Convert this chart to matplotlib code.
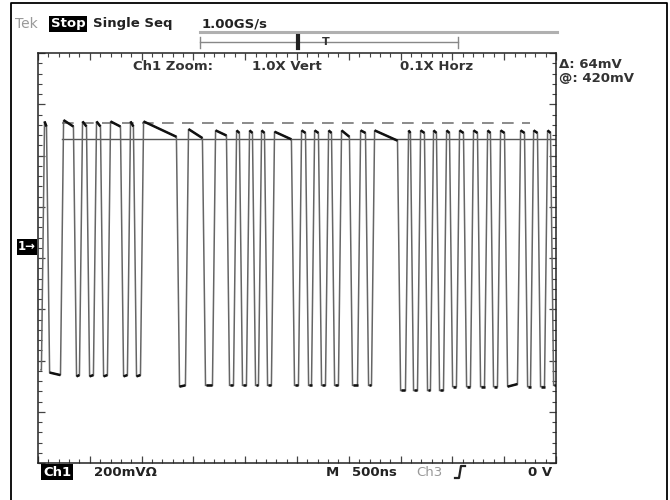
import numpy as np
import matplotlib
matplotlib.use("Agg")
import matplotlib.pyplot as plt
from matplotlib.collections import LineCollection
from matplotlib.lines import Line2D

# ---------------- data ----------------
# segment start times (us) of the digital waveform (alternating low/high)
seg_t0_us = [0.30, 0.48, 0.97, 2.32, 3.57, 4.15, 4.83, 5.50, 6.18, 6.85,
             8.11, 8.78, 9.36, 10.04, 13.51, 14.38, 16.02, 16.99, 18.34, 19.02,
             19.59, 20.27, 20.85, 21.43, 22.01, 22.68, 24.61, 25.29, 25.97, 26.55,
             27.22, 27.90, 28.48, 29.15, 30.21, 30.99, 31.76, 32.34, 34.85, 35.62,
             36.10, 36.78, 37.45, 38.03, 38.61, 39.29, 39.87, 40.54, 41.22, 41.89,
             42.57, 43.25, 43.82, 44.50, 45.18, 46.43, 47.11, 47.69, 48.36, 49.04,
             49.62]
seg_end_us = 50.0
# level at the start and end of each segment (mV)
seg_v0_mV = [-480, 490, -490, 495, -505, 490, -505, 490, -505, 490,
             -505, 490, -505, 490, -545, 460, -540, 455, -540, 455,
             -540, 455, -540, 455, -540, 450, -540, 455, -540, 455,
             -540, 455, -540, 455, -540, 455, -540, 455, -560, 455,
             -560, 455, -560, 455, -560, 455, -545, 455, -545, 455,
             -545, 455, -545, 455, -545, 455, -545, 455, -545, 455,
             -540]
seg_v1_mV = [-480, 470, -500, 470, -500, 470, -500, 470, -500, 470,
             -500, 470, -500, 430, -540, 425, -540, 435, -540, 445,
             -540, 445, -540, 445, -540, 420, -540, 445, -540, 445,
             -540, 445, -540, 430, -540, 445, -540, 415, -560, 445,
             -560, 445, -560, 445, -560, 445, -545, 445, -545, 445,
             -545, 445, -545, 445, -535, 445, -545, 445, -545, 445,
             -540]

cursor_mV = 420          # "@: 420mV"
delta_mV = 64            # "Δ: 64mV"
volts_per_div_mV = 200
time_per_div_us = 5

header_texts = ["Tek", "Stop", "Single Seq", "1.00GS/s"]
zoom_texts = ["Ch1 Zoom:", "1.0X Vert", "0.1X Horz"]
footer_texts = ["Ch1", "200mV\u03a9", "M", "500ns", "Ch3", "0 V"]

# ---------------- figure ----------------
W, H = 670, 500
fig = plt.figure(figsize=(W / 100, H / 100), dpi=100)
fig.patch.set_facecolor("white")

def fx(px):
    return px / W

def fy(py):
    return 1 - py / H

L, R, T, B = 38, 556, 53, 463
ax = fig.add_axes([fx(L), fy(B), (R - L) / W, (B - T) / H])
ymax = 757
ymin = ymax - 8 * volts_per_div_mV
ax.set_xlim(0, 10 * time_per_div_us)
ax.set_ylim(ymin, ymax)

ax.set_xticks(np.arange(0, 10 * time_per_div_us + 0.01, time_per_div_us))
ax.set_xticks(np.arange(0, 10 * time_per_div_us + 0.01, time_per_div_us / 5), minor=True)
ax.set_yticks(np.arange(ymin, ymax + 0.1, volts_per_div_mV))
ax.set_yticks(np.arange(ymin, ymax + 0.1, volts_per_div_mV / 5), minor=True)
ax.tick_params(which="both", direction="in", top=True, right=True,
               labelbottom=False, labelleft=False, color="#444444")
ax.tick_params(which="major", length=5, width=0.9)
ax.tick_params(which="minor", length=3, width=0.8)
for s in ax.spines.values():
    s.set_linewidth(1.1)
    s.set_color("#222222")

# build waveform
tr = 0.3
xs, ys, flats = [], [], []
n = len(seg_t0_us)
for i in range(n):
    t0 = seg_t0_us[i]
    t1 = seg_t0_us[i + 1] if i + 1 < n else seg_end_us
    a = t0 if i == 0 else t0 + tr / 2
    b = t1 if i == n - 1 else t1 - tr / 2
    xs += [a, b]
    ys += [seg_v0_mV[i], seg_v1_mV[i]]
    flats.append([(a, seg_v0_mV[i]), (b, seg_v1_mV[i])])

# cursors
x_c0 = seg_t0_us[3]
ax.plot([x_c0, seg_end_us], [cursor_mV, cursor_mV], color="#555555", lw=1.0, zorder=2)
ax.plot([x_c0, 47.5], [cursor_mV + delta_mV] * 2, color="#777777", lw=1.2,
        dashes=(7, 5), zorder=2)

ax.plot(xs, ys, color="#666666", lw=1.1, zorder=3, solid_joinstyle="miter")
ax.add_collection(LineCollection(flats, colors="#111111", linewidths=1.8, zorder=4))

# ---------------- texts ----------------
FONT = "DejaVu Sans"
def t(px, py, s, color="#222222", size=9.5, weight="bold", **kw):
    fig.text(fx(px), fy(py), s, color=color, fontsize=size, fontweight=weight,
             family=FONT, va="center", ha=kw.pop("ha", "left"), **kw)

# header
t(15, 24, header_texts[0], color="#999999", weight="normal", size=10)
t(51, 24, header_texts[1], color="white",
  bbox=dict(facecolor="black", edgecolor="none", pad=1.2))
t(93, 24, header_texts[2])
t(202, 24, header_texts[3])

# record bracket
fig.add_artist(Line2D([fx(200), fx(557)], [fy(32), fy(32)], color="#b0b0b0", lw=2.2))
fig.add_artist(Line2D([fx(200), fx(458)], [fy(42), fy(42)], color="#888888", lw=1.0))
for xb in (200, 458):
    fig.add_artist(Line2D([fx(xb), fx(xb)], [fy(37), fy(48)], color="#888888", lw=1.0))
fig.add_artist(Line2D([fx(298), fx(298)], [fy(36), fy(48)], color="#222222", lw=3.0))
t(326, 42, "T", size=8, ha="center", color="#333333")

# zoom line
t(133, 66, zoom_texts[0], color="#333333")
t(252, 66, zoom_texts[1], color="#333333")
t(400, 66, zoom_texts[2], color="#333333")

# cursor readout
t(559, 65, "\u0394: " + f"{delta_mV}mV", color="#333333")
t(559, 78, "@: " + f"{cursor_mV}mV", color="#333333")

# ground marker at 0 V
ax.annotate("1\u2192", xy=(0, 0), xycoords=("axes fraction", "data"),
            xytext=(-20, 0), textcoords="offset pixels", color="white",
            fontsize=8.5, fontweight="bold", family=FONT, va="center", ha="left",
            bbox=dict(facecolor="black", edgecolor="none", pad=1.0),
            annotation_clip=False)

# footer
t(43, 472, footer_texts[0], color="white",
  bbox=dict(facecolor="black", edgecolor="none", pad=1.2))
t(94, 472, footer_texts[1])
t(326, 472, footer_texts[2])
t(352, 472, footer_texts[3])
t(416, 472, footer_texts[4], color="#999999", weight="normal")
# rising-slope symbol
fig.add_artist(Line2D([fx(455), fx(459), fx(461), fx(465)],
                      [fy(478), fy(478), fy(466), fy(466)], color="#222222", lw=1.6))
t(528, 472, footer_texts[5])

# outer frame
fig.add_artist(Line2D([fx(11), fx(11), fx(667), fx(667)],
                      [0, fy(3), fy(3), 0], color="black", lw=1.3))

fig.savefig("out.png", dpi=100, facecolor="white")
